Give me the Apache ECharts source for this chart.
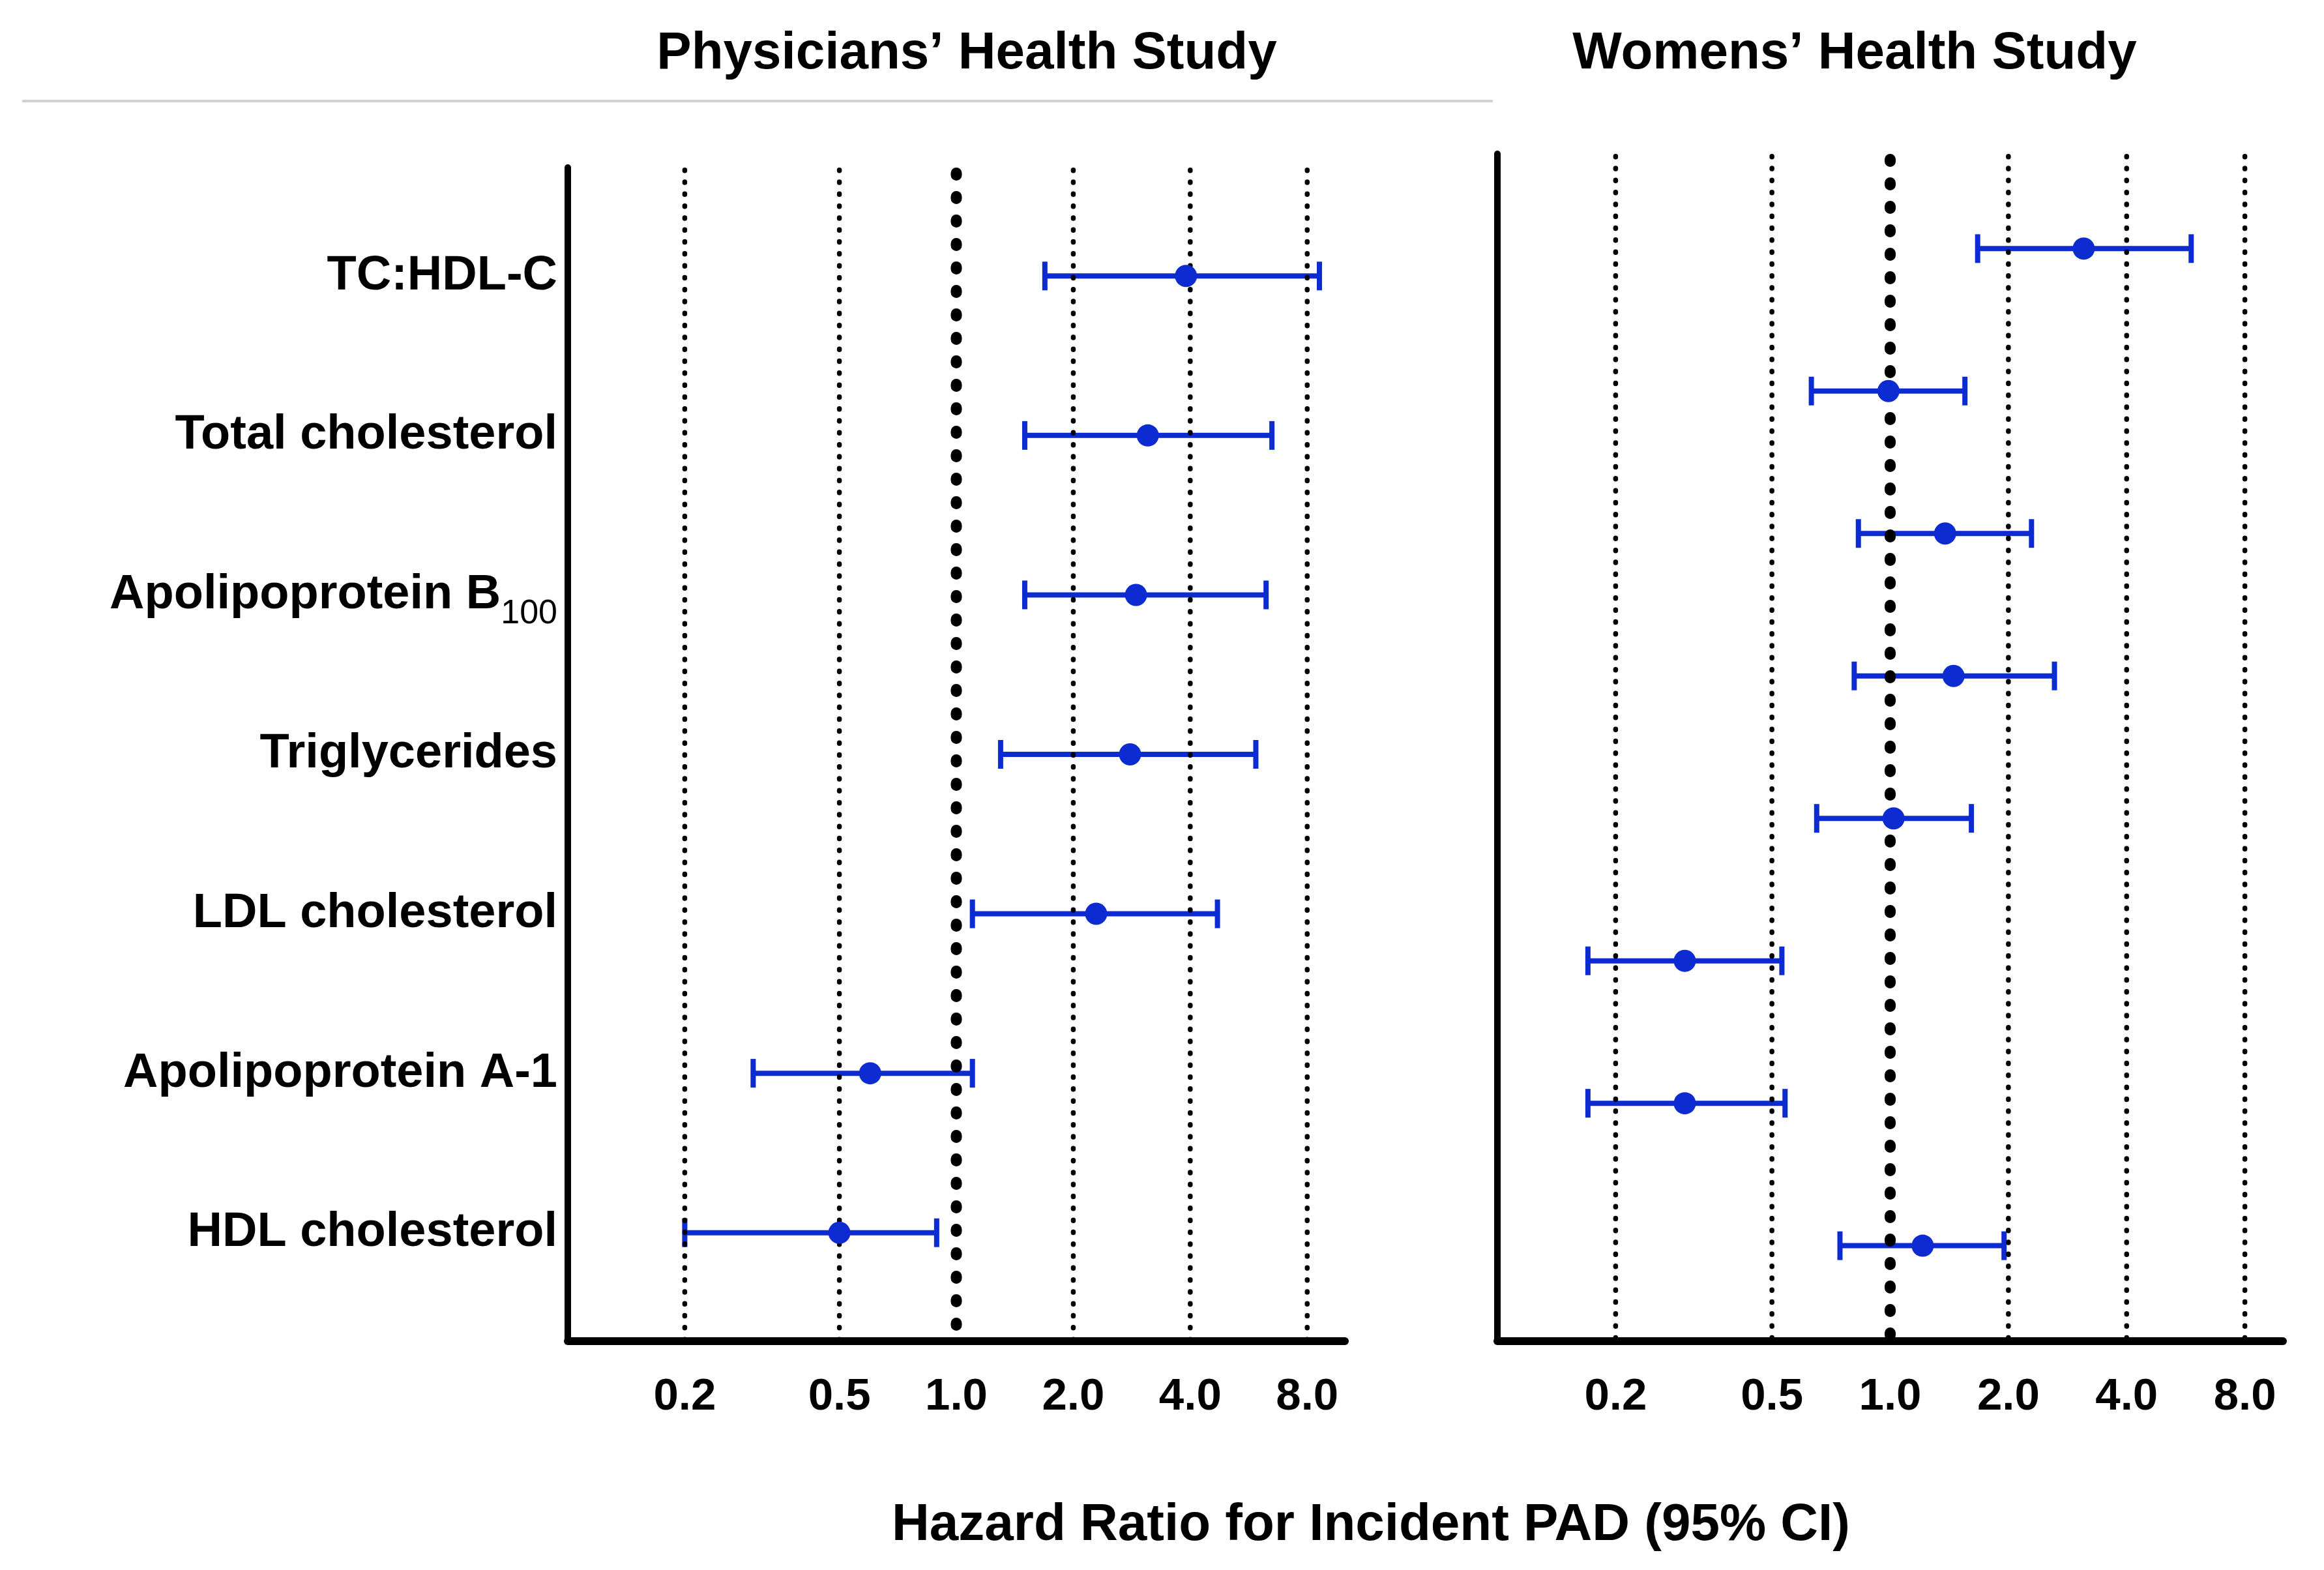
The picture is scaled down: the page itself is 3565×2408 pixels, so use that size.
<!DOCTYPE html>
<html>
<head>
<meta charset="utf-8">
<title>Hazard Ratio for Incident PAD</title>
<script src="https://cdn.jsdelivr.net/npm/echarts@6.0.0/dist/echarts.min.js"></script>
<style>
  html, body { margin: 0; padding: 0; background: #fff; }
  #main { width: 3565px; height: 2408px; }
</style>
</head>
<body>
<div id="main"></div>
<script>
// row labels (left panel only), subscript part kept apart
var rowLabels = ['TC:HDL-C', 'Total cholesterol', 'Apolipoprotein B', 'Triglycerides', 'LDL cholesterol', 'Apolipoprotein A-1', 'HDL cholesterol'];
var rowSubs = ['', '', '100', '', '', '', ''];

// Physicians' Health Study: hazard ratio and 95% CI
var phsHR   = [3.90, 3.11, 2.90, 2.80, 2.29, 0.60, 0.50];
var phsLow  = [1.69, 1.50, 1.50, 1.30, 1.10, 0.30, 0.20];
var phsHigh = [8.60, 6.49, 6.27, 5.90, 4.70, 1.10, 0.89];

// Womens' Health Study (8 rows, no labels in the figure)
var whsHR   = [3.11, 0.99, 1.38, 1.45, 1.02, 0.30, 0.30, 1.21];
var whsLow  = [1.67, 0.63, 0.83, 0.81, 0.65, 0.17, 0.17, 0.745];
var whsHigh = [5.84, 1.55, 2.29, 2.62, 1.61, 0.53, 0.54, 1.95];

// x axis ticks / dotted reference lines
var tickValues = [0.2, 0.5, 1, 2, 4, 8];
var refValue = 1;

var FONT = '"Liberation Sans", Arial, Helvetica, sans-serif';
var BLUE = '#0c2bd0';

var chart = echarts.init(document.getElementById('main'));

function rowIndex(n) {
  var arr = [];
  for (var i = 1; i <= n; i++) arr.push(i);
  return arr;
}

// error bar with end caps
function renderCI(params, api) {
  var y = api.value(1);
  var a = api.coord([api.value(0), y]);
  var b = api.coord([api.value(2), y]);
  var h = 22;
  var st = { stroke: BLUE, lineWidth: 8 };
  return {
    type: 'group',
    children: [
      { type: 'line', shape: { x1: a[0], y1: a[1], x2: b[0], y2: b[1] }, style: st },
      { type: 'line', shape: { x1: a[0], y1: a[1] - h, x2: a[0], y2: a[1] + h }, style: st },
      { type: 'line', shape: { x1: b[0], y1: b[1] - h, x2: b[0], y2: b[1] + h }, style: st }
    ]
  };
}

// vertical dotted line over the full plot height
function dottedLine(width, dash) {
  return function (params, api) {
    var x = api.coord([api.value(0), api.value(1)])[0];
    var cs = params.coordSys;
    return {
      type: 'line',
      shape: { x1: x, y1: cs.y + width / 2, x2: x, y2: cs.y + cs.height },
      style: { stroke: '#000', lineWidth: width, lineDash: dash, lineCap: 'round' }
    };
  };
}

function xAxisFor(i) {
  return {
    type: 'log',
    logBase: 10,
    gridIndex: i,
    min: 0.1,
    max: 10,
    axisLine: { show: true, onZero: false, lineStyle: { color: '#000', width: 12 } },
    axisTick: { show: false },
    minorTick: { show: false },
    splitLine: { show: false },
    axisLabel: {
      customValues: tickValues,
      formatter: function (v) { return Number(v).toFixed(1); },
      margin: 51,
      color: '#000',
      fontSize: 69,
      fontWeight: 'bold',
      fontFamily: FONT
    }
  };
}

function panelSeries(i, hr, low, high) {
  var thin = tickValues.filter(function (v) { return v !== refValue; });
  return [{
    type: 'custom',
    xAxisIndex: i, yAxisIndex: i,
    renderItem: renderCI,
    encode: { x: [0, 2], y: 1 },
    data: low.map(function (v, k) { return [v, k + 1, high[k]]; }),
    silent: true,
    z: 2
  }, {
    type: 'custom',
    xAxisIndex: i, yAxisIndex: i,
    renderItem: dottedLine(7.5, [1, 17.3]),
    encode: { x: 0, y: 1 },
    data: thin.map(function (v) { return [v, 1]; }),
    silent: true,
    z: 3
  }, {
    type: 'custom',
    xAxisIndex: i, yAxisIndex: i,
    renderItem: dottedLine(17, [3, 33]),
    encode: { x: 0, y: 1 },
    data: [[refValue, 1]],
    silent: true,
    z: 3
  }, {
    type: 'scatter',
    xAxisIndex: i, yAxisIndex: i,
    symbol: 'circle',
    symbolSize: 34,
    itemStyle: { color: BLUE, opacity: 1 },
    data: hr.map(function (v, k) { return [v, k + 1]; }),
    z: 4
  }];
}

var titleStyle = { color: '#000', fontSize: 80, fontWeight: 'bold', fontFamily: FONT };

chart.setOption({
  animation: false,
  backgroundColor: '#fff',
  title: [
    { text: 'Physicians’ Health Study', left: 1483, top: 43, textAlign: 'center', padding: 0, textStyle: titleStyle },
    { text: 'Womens’ Health Study', left: 2845, top: 43, textAlign: 'center', padding: 0, textStyle: titleStyle },
    { text: 'Hazard Ratio for Incident PAD (95% CI)', left: 2103, top: 2300, textAlign: 'center', padding: 0, textStyle: titleStyle }
  ],
  graphic: [{
    type: 'line',
    shape: { x1: 34, y1: 155, x2: 2290, y2: 155 },
    style: { stroke: '#d2d2d2', lineWidth: 4 }
  }],
  grid: [
    { left: 871, top: 257, width: 1192, height: 1800, outerBoundsMode: 'none' },
    { left: 2297, top: 236, width: 1205, height: 1821, outerBoundsMode: 'none' }
  ],
  xAxis: [xAxisFor(0), xAxisFor(1)],
  yAxis: [{
    type: 'value',
    gridIndex: 0,
    inverse: true,
    min: 0.32,
    max: 7.68,
    axisLine: { show: true, onZero: false, lineStyle: { color: '#000', width: 10 } },
    axisTick: { show: false },
    splitLine: { show: false },
    axisLabel: {
      customValues: rowIndex(rowLabels.length),
      margin: 16,
      color: '#000',
      fontSize: 74,
      fontWeight: 'bold',
      fontFamily: FONT,
      formatter: function (v) {
        var k = Math.round(v) - 1;
        if (rowSubs[k]) return '{m|' + rowLabels[k] + '}{s|' + rowSubs[k] + '}';
        return rowLabels[k];
      },
      rich: {
        m: { fontSize: 74, lineHeight: 74, fontWeight: 'bold', fontFamily: FONT, color: '#000', verticalAlign: 'top' },
        s: { fontSize: 52, lineHeight: 52, fontWeight: 'normal', fontFamily: FONT, color: '#000', padding: [40, 0, 0, 0], verticalAlign: 'top' }
      }
    }
  }, {
    type: 'value',
    gridIndex: 1,
    inverse: true,
    min: 0.335,
    max: 8.67,
    axisLine: { show: true, onZero: false, lineStyle: { color: '#000', width: 10 } },
    axisTick: { show: false },
    splitLine: { show: false },
    axisLabel: { show: false }
  }],
  series: [].concat(
    panelSeries(0, phsHR, phsLow, phsHigh),
    panelSeries(1, whsHR, whsLow, whsHigh)
  )
});
</script>
</body>
</html>
